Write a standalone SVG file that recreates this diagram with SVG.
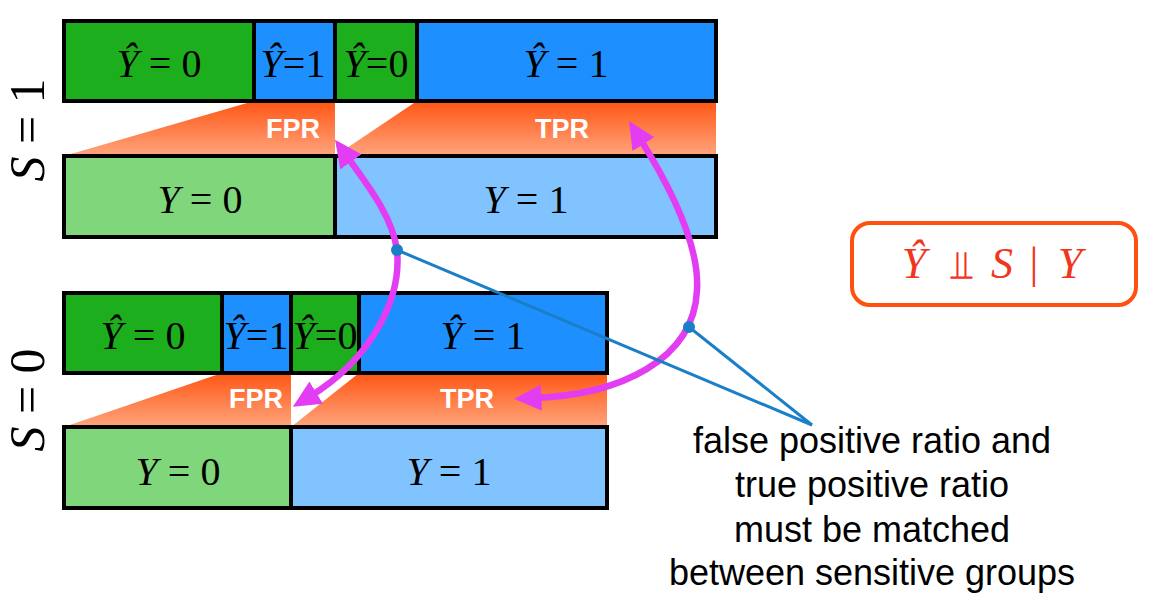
<svg xmlns="http://www.w3.org/2000/svg" width="1159" height="606" viewBox="0 0 1159 606">
<defs>
<linearGradient id="og" x1="0" y1="0" x2="0" y2="1">
<stop offset="0" stop-color="#FF5512"/>
<stop offset="1" stop-color="#FFA57E"/>
</linearGradient>
<marker id="mh" viewBox="0 0 4.2 4" refX="1.3" refY="2" markerWidth="4.2" markerHeight="4" orient="auto-start-reverse" markerUnits="strokeWidth">
<path d="M0,0 L4.2,2 L0,4 z" fill="#E23DF2"/>
</marker>
<style>
.b{stroke:#000;stroke-width:4;stroke-linejoin:miter}
.dg{fill:#1DAE1D}
.db{fill:#1E8FFF}
.lg{fill:#80D67B}
.lb{fill:#80C3FF}
.or{fill:url(#og)}
.m{font-family:"Liberation Serif","Times New Roman",serif;font-size:40px;fill:#000;text-anchor:middle}
.i{font-style:italic}
.rt{font-family:"Liberation Sans",Arial,sans-serif;font-weight:bold;font-size:27px;fill:#fff;text-anchor:middle}
.s{font-family:"Liberation Serif","Times New Roman",serif;font-size:50px;fill:#000;text-anchor:middle}
.arc{fill:none;stroke:#E23DF2;stroke-width:6.5;marker-start:url(#mh);marker-end:url(#mh)}
.bl{stroke:#1B7FC8;stroke-width:3;fill:none}
.dot{fill:#1B7FC8}
.note{font-family:"Liberation Sans",Arial,sans-serif;font-size:36px;fill:#000;text-anchor:middle}
.f{font-family:"Liberation Serif","Times New Roman",serif;font-size:44px;fill:#F2361E;text-anchor:middle}
.f2{font-family:"DejaVu Serif","DejaVu Sans",serif;font-size:40px;fill:#F2361E;text-anchor:middle}
</style>
</defs>
<rect width="1159" height="606" fill="#fff"/>

<g id="group-s1">
<polygon class="or" points="254,101 335,101 335,156 64,156"/>
<polygon class="or" points="417,101 716,101 716,156 335,156"/>
<g id="pred-s1">
<rect class="dg b" x="64" y="21" width="190" height="80"/>
<rect class="db b" x="254" y="21" width="81" height="80"/>
<rect class="dg b" x="335" y="21" width="82" height="80"/>
<rect class="db b" x="417" y="21" width="299" height="80"/>
<text class="m" x="159" y="77"><tspan class="i">Ŷ</tspan> = 0</text>
<text class="m" x="293" y="77"><tspan class="i">Ŷ</tspan>=1</text>
<text class="m" x="376" y="77"><tspan class="i">Ŷ</tspan>=0</text>
<text class="m" x="566" y="77"><tspan class="i">Ŷ</tspan> = 1</text>
</g>
<g id="truth-s1">
<rect class="lg b" x="64" y="156" width="271" height="81"/>
<rect class="lb b" x="335" y="156" width="381" height="81"/>
<text class="m" x="200" y="213"><tspan class="i">Y</tspan> = 0</text>
<text class="m" x="526" y="213"><tspan class="i">Y</tspan> = 1</text>
</g>
<text class="rt" x="293" y="138">FPR</text>
<text class="rt" x="562" y="138">TPR</text>
<text class="s" transform="translate(44,130) rotate(-90)"><tspan class="i">S</tspan> = 1</text>
</g>

<g id="group-s0">
<polygon class="or" points="222,373 291,373 291,427 64,427"/>
<polygon class="or" points="359,373 607,373 607,427 291,427"/>
<g id="pred-s0">
<rect class="dg b" x="64" y="293" width="158" height="80"/>
<rect class="db b" x="222" y="293" width="69" height="80"/>
<rect class="dg b" x="291" y="293" width="68" height="80"/>
<rect class="db b" x="359" y="293" width="248" height="80"/>
<text class="m" x="143" y="349"><tspan class="i">Ŷ</tspan> = 0</text>
<text class="m" x="256" y="349"><tspan class="i">Ŷ</tspan>=1</text>
<text class="m" x="325" y="349"><tspan class="i">Ŷ</tspan>=0</text>
<text class="m" x="483" y="349"><tspan class="i">Ŷ</tspan> = 1</text>
</g>
<g id="truth-s0">
<rect class="lg b" x="64" y="427" width="227" height="81"/>
<rect class="lb b" x="291" y="427" width="316" height="81"/>
<text class="m" x="178" y="485"><tspan class="i">Y</tspan> = 0</text>
<text class="m" x="449" y="485"><tspan class="i">Y</tspan> = 1</text>
</g>
<text class="rt" x="256" y="408">FPR</text>
<text class="rt" x="467" y="408">TPR</text>
<text class="s" transform="translate(44,400) rotate(-90)"><tspan class="i">S</tspan> = 0</text>
</g>

<g id="formula">
<rect x="852" y="223" width="284" height="82" rx="18" ry="18" fill="#fff" stroke="#FF5010" stroke-width="4"/>
<text class="f i" x="914" y="278">Ŷ</text>
<text class="f2" x="961" y="278">⫫</text>
<text class="f i" x="1002" y="278">S</text>
<text class="f" x="1034" y="278">|</text>
<text class="f i" x="1070" y="278">Y</text>
</g>

<g id="connectors">
<path class="arc" d="M346,155 C366,183 392,215 397,250 C402,300 370,360 309,397"/>
<path class="arc" d="M639,137 C661,172 700,240 697,290 C694,360 620,395 533,398"/>
<line class="bl" x1="397" y1="250" x2="812" y2="425"/>
<line class="bl" x1="689" y1="327" x2="812" y2="425"/>
<circle class="dot" cx="397" cy="250" r="6"/>
<circle class="dot" cx="689" cy="327" r="6"/>
</g>

<g id="note">
<text class="note" x="872" y="453">false positive ratio and</text>
<text class="note" x="872" y="497">true positive ratio</text>
<text class="note" x="872" y="542">must be matched</text>
<text class="note" x="872" y="585">between sensitive groups</text>
</g>
</svg>
